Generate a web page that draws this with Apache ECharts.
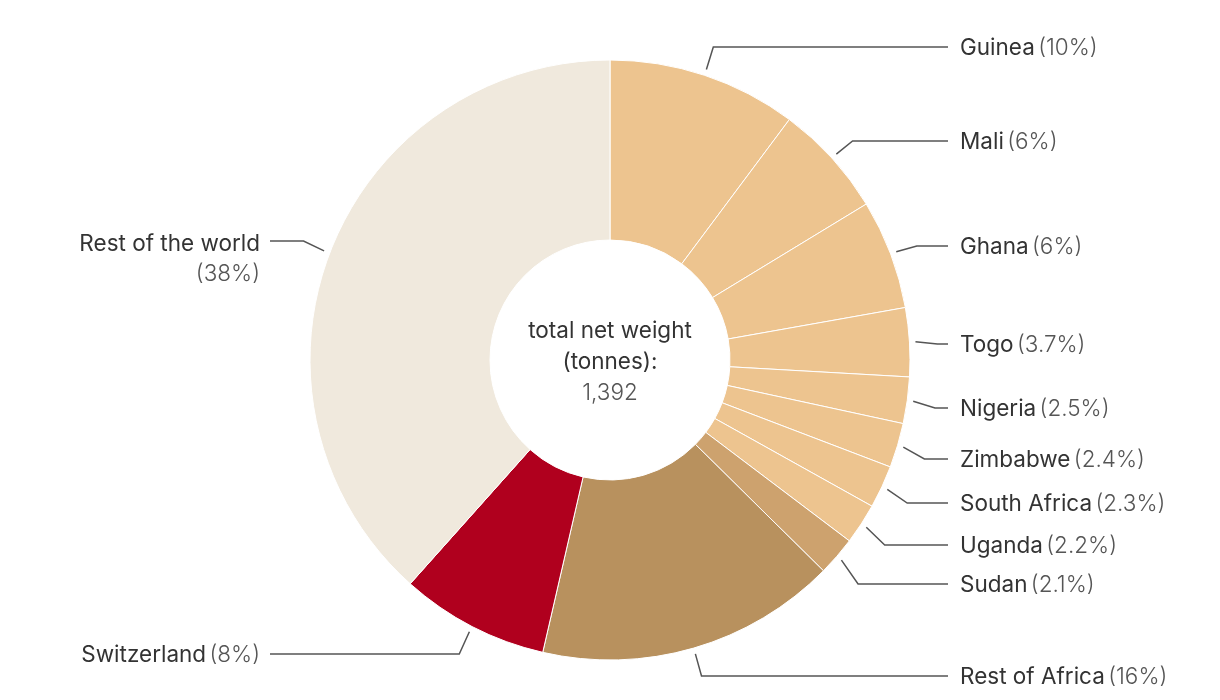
<!DOCTYPE html>
<html><head><meta charset="utf-8">
<script src="https://cdn.jsdelivr.net/npm/echarts@6/dist/echarts.min.js"></script>
<style>html,body{margin:0;padding:0;background:#fff}#c{width:1220px;height:700px}</style>
</head><body><div id="c"></div>
<script>
const categories = ['Guinea','Mali','Ghana','Togo','Nigeria','Zimbabwe','South Africa','Uganda','Sudan','Rest of Africa','Switzerland','Rest of the world'];
const shares = [10.2, 6.1, 5.9, 3.7, 2.5, 2.4, 2.3, 2.2, 2.1, 16.2, 8.0, 38.4];
const pctLabels = ['10%','6%','6%','3.7%','2.5%','2.4%','2.3%','2.2%','2.1%','16%','8%','38%'];
const totalLabel = '1,392';

// layout (not data)
const colors = ['#EDC48F','#EDC48F','#EDC48F','#EDC48F','#EDC48F','#EDC48F','#EDC48F','#EDC48F','#CDA26E','#B8915E','#B0001E','#F0E9DD'];
const labelY = [48,142,247,345,409,460,504,546,585,677,655,259];
const lineY  = [47,141,246,344,408,459,503,545,584,676,654,241];
const rightSide = [1,1,1,1,1,1,1,1,1,1,0,0];

const chart = echarts.init(document.getElementById('c'), null, {renderer:'canvas'});
const FONT = 'Inter, "Noto Sans", sans-serif';
const FS = 22.5;
chart.setOption({
  animation:false,
  series:[{
    type:'pie',
    center:[610,360],
    radius:[120,300],
    startAngle:90,
    clockwise:true,
    avoidLabelOverlap:false,
    itemStyle:{borderColor:'#fff',borderWidth:1},
    label:{
      show:true,
      fontFamily:FONT,
      formatter:function(p){
        const i = p.dataIndex;
        if(i===11) return '{n|'+categories[i]+'}\n{p|('+pctLabels[i]+')}';
        return '{n|'+categories[i]+'} {p|('+pctLabels[i]+')}';
      },
      rich:{
        n:{fontFamily:FONT,fontSize:FS,color:'#333',lineHeight:30},
        p:{fontFamily:FONT,fontSize:FS,color:'#555',fontWeight:300,lineHeight:30}
      }
    },
    labelLine:{show:true,length:22,length2:20,lineStyle:{color:'#555',width:1.5}},
    labelLayout:function(params){
      const i = params.dataIndex;
      const pts = params.labelLinePoints;
      const right = rightSide[i]===1;
      const lx = right ? 960 : 260;
      const res = {x:lx, y:labelY[i], align:right?'left':'right', verticalAlign:'middle'};
      if(pts){
        const cx = 610, cy = 360;
        const dx = pts[0][0]-cx, dy = pts[0][1]-cy;
        const d = Math.sqrt(dx*dx+dy*dy);
        const p0 = [cx+dx*(d+6)/d, cy+dy*(d+6)/d];
        const p1 = [cx+dx*(d+28)/d, lineY[i]];
        const p2 = [right ? lx-12 : lx+10, lineY[i]];
        res.labelLinePoints = [p0,p1,p2];
      }
      return res;
    },
    data: categories.map((c,i)=>({name:c,value:shares[i],itemStyle:{color:colors[i]}}))
  }],
  graphic:[{
    type:'text',
    x:610, y:362,
    style:{
      text:'{a|total net weight}\n{a|(tonnes):}\n{b|'+totalLabel+'}',
      fill:'#333',
      rich:{
        a:{fontFamily:FONT,fontSize:FS,fill:'#333',color:'#333',lineHeight:31,align:'center'},
        b:{fontFamily:FONT,fontSize:FS,fill:'#555',color:'#555',fontWeight:300,lineHeight:31,align:'center'}
      },
      align:'center',verticalAlign:'middle'
    }
  }]
});
</script></body></html>
